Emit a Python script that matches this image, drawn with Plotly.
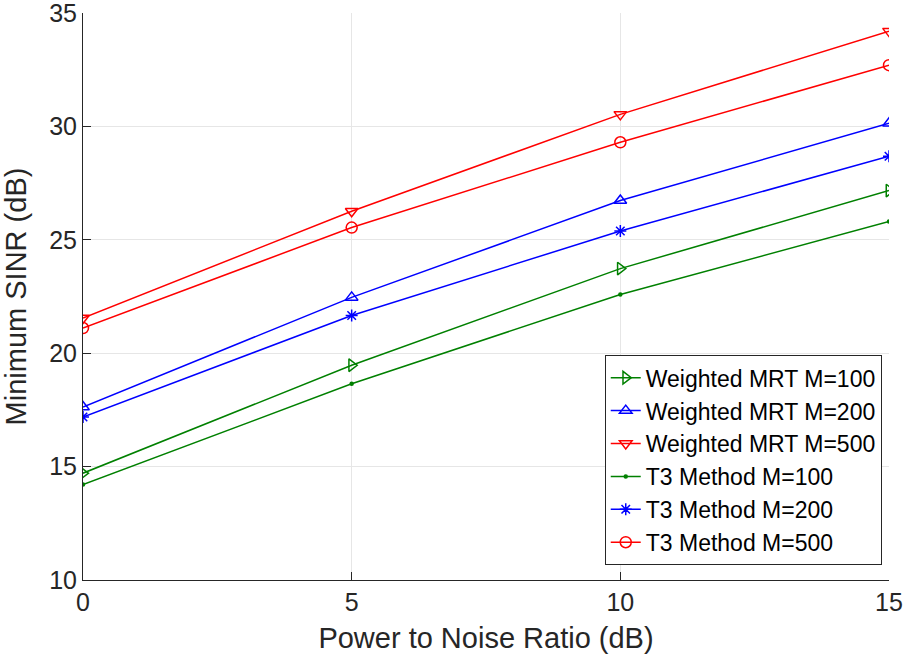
import plotly.graph_objects as go

# Power to noise ratio (dB)
pnr = [0, 5, 10, 15]

# Minimum SINR (dB) for each scheme
wmrt_m100 = [14.71, 19.47, 23.73, 27.17]
wmrt_m200 = [17.63, 22.46, 26.73, 30.14]
wmrt_m500 = [21.55, 26.26, 30.53, 34.20]
t3_m100 = [14.21, 18.65, 22.59, 25.81]
t3_m200 = [17.19, 21.66, 25.39, 28.68]
t3_m500 = [21.11, 25.54, 29.30, 32.70]

x_ticks = [0, 5, 10, 15]
y_ticks = [10, 15, 20, 25, 30, 35]

GREEN = "#008000"
BLUE = "#0000ff"
RED = "#ff0000"
FONT = "Liberation Sans, Arial, Helvetica, sans-serif"

series = [
    ("Weighted MRT M=100", wmrt_m100, GREEN, "triangle-right-open", 11),
    ("Weighted MRT M=200", wmrt_m200, BLUE, "triangle-up-open", 11),
    ("Weighted MRT M=500", wmrt_m500, RED, "triangle-down-open", 11),
    ("T3 Method M=100", t3_m100, GREEN, "circle", 3),
    ("T3 Method M=200", t3_m200, BLUE, "asterisk-open", 10),
    ("T3 Method M=500", t3_m500, RED, "circle-open", 11),
]

fig = go.Figure()
for name, vals, color, symbol, size in series:
    fig.add_trace(go.Scatter(
        x=pnr, y=vals, name=name, mode="lines+markers",
        line=dict(color=color, width=1.5),
        marker=dict(symbol=symbol, size=size, color=color,
                    line=dict(color=color, width=1.5)),
    ))

axis_common = dict(
    showline=True, linecolor="#262626", linewidth=1, mirror=False,
    ticks="inside", ticklen=8, tickcolor="#262626", tickwidth=1,
    showgrid=True, gridcolor="#e6e6e6", gridwidth=1,
    zeroline=False, automargin=False, ticklabeloverflow="allow",
    tickfont=dict(family=FONT, size=25, color="#262626"),
    title_font=dict(family=FONT, size=29, color="#262626"),
)

fig.update_xaxes(range=[0, 15], tickvals=x_ticks,
                 title_text="Power to Noise Ratio (dB)", title_standoff=12,
                 **axis_common)
fig.update_yaxes(range=[10, 35], tickvals=y_ticks,
                 title_text="Minimum SINR (dB)",
                 **axis_common)

fig.update_layout(
    width=907, height=664,
    margin=dict(l=83, r=18, t=13, b=84),
    plot_bgcolor="white", paper_bgcolor="white",
    font=dict(family=FONT, color="#262626"),
    showlegend=True,
    legend=dict(
        x=0.991, y=0.026, xanchor="right", yanchor="bottom",
        bgcolor="white", bordercolor="#262626", borderwidth=1,
        font=dict(family=FONT, size=23, color="black"),
        tracegroupgap=0, itemwidth=30,
    ),
)

fig.write_html("out.html")
